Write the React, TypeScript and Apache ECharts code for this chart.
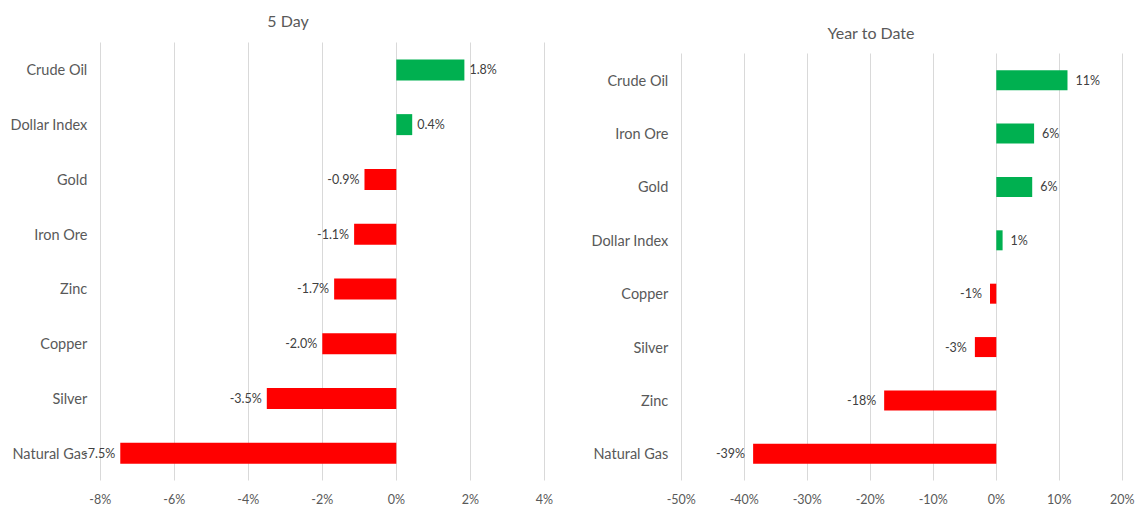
import React, { useEffect, useRef } from "react";
import * as echarts from "echarts";

const fiveDayCategories = ["Crude Oil", "Dollar Index", "Gold", "Iron Ore", "Zinc", "Copper", "Silver", "Natural Gas"];
const fiveDayValues = [1.84, 0.43, -0.86, -1.14, -1.68, -2.0, -3.5, -7.46];
const fiveDayTicks = { min: -8, max: 4, interval: 2 };

const ytdCategories = ["Crude Oil", "Iron Ore", "Gold", "Dollar Index", "Copper", "Silver", "Zinc", "Natural Gas"];
const ytdValues = [11.3, 6.0, 5.7, 1.0, -1.0, -3.4, -17.8, -38.6];
const ytdTicks = { min: -50, max: 20, interval: 10 };

const GREEN = "#00B050";
const RED = "#FF0000";
const FONT = "Lato, 'Open Sans', sans-serif";

export default function App() {
  const ref = useRef<HTMLDivElement>(null);
  useEffect(() => {
    document.body.style.margin = "0";
    if (!ref.current) return;
    const chart = echarts.init(ref.current, undefined, { renderer: "svg" });
    const mkData = (vals: number[]) =>
      vals.map((v) => ({ value: v, itemStyle: { color: v >= 0 ? GREEN : RED }, label: { position: v >= 0 ? "right" : "left" } }));
    const xAxisBase = {
      type: "value",
      axisLine: { show: false },
      axisTick: { show: false },
      splitLine: { show: true, lineStyle: { color: "#D9D9D9", width: 1 } },
      axisLabel: { color: "#595959", fontSize: 12.5, fontFamily: FONT, margin: 12, formatter: (v: number) => v + "%" },
    };
    const yAxisBase = {
      type: "category",
      inverse: true,
      axisLine: { show: false },
      axisTick: { show: false },
      splitLine: { show: false },
      axisLabel: { color: "#595959", fontSize: 14.5, fontFamily: FONT, margin: 13 },
    };
    chart.setOption({
      animation: false,
      backgroundColor: "#ffffff",
      title: [
        { text: "5 Day", left: 283, top: 7, textAlign: "center", textStyle: { color: "#595959", fontSize: 16, fontWeight: "normal", fontFamily: FONT } },
        { text: "Year to Date", left: 866, top: 19, textAlign: "center", textStyle: { color: "#595959", fontSize: 16, fontWeight: "normal", fontFamily: FONT } },
      ],
      grid: [
        { left: 100.3, width: 444, top: 42.5, height: 438 },
        { left: 681.3, width: 441, top: 53.5, height: 427 },
      ],
      xAxis: [
        { ...xAxisBase, gridIndex: 0, min: fiveDayTicks.min, max: fiveDayTicks.max, interval: fiveDayTicks.interval },
        { ...xAxisBase, gridIndex: 1, min: ytdTicks.min, max: ytdTicks.max, interval: ytdTicks.interval },
      ],
      yAxis: [
        { ...yAxisBase, gridIndex: 0, data: fiveDayCategories },
        { ...yAxisBase, gridIndex: 1, data: ytdCategories },
      ],
      series: [
        {
          type: "bar",
          xAxisIndex: 0,
          yAxisIndex: 0,
          barWidth: 21,
          data: mkData(fiveDayValues),
          label: { show: true, color: "#404040", fontSize: 12.5, fontFamily: FONT, distance: 5, formatter: (p: any) => p.value.toFixed(1) + "%" },
        },
        {
          type: "bar",
          xAxisIndex: 1,
          yAxisIndex: 1,
          barWidth: 20,
          data: mkData(ytdValues),
          label: { show: true, color: "#404040", fontSize: 12.5, fontFamily: FONT, distance: 8, formatter: (p: any) => Math.round(p.value) + "%" },
        },
      ],
    });
    return () => chart.dispose();
  }, []);
  return <div ref={ref} style={{ width: 1148, height: 519 }} />;
}
